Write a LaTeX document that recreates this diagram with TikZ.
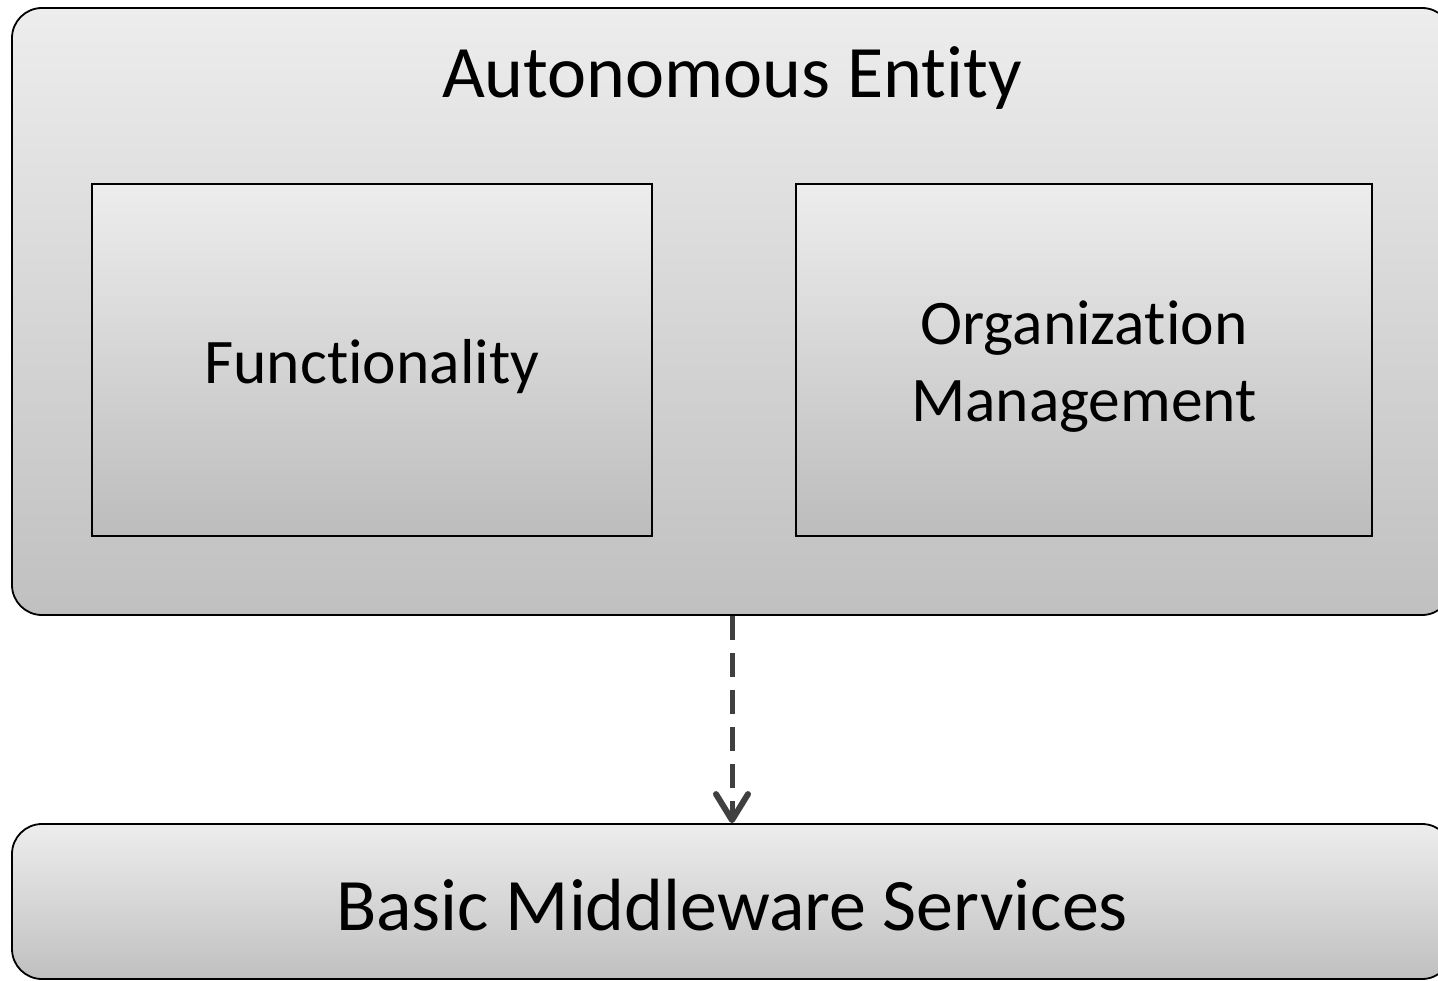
\documentclass[tikz,border=0pt]{standalone}
\usepackage{fontspec}
\setmainfont[RawFeature=-liga]{Carlito}
\usetikzlibrary{arrows.meta}
\definecolor{gtop}{HTML}{EDEDED}
\definecolor{gbot}{HTML}{C0C0C0}
\definecolor{arrowgray}{HTML}{404040}
\tikzset{
  bigbox/.style={draw=black, line width=1.8pt, rounded corners=30pt,
    top color=gtop, bottom color=gbot, inner sep=0pt},
  innerbox/.style={draw=black, line width=1.3pt,
    top color=gtop, bottom color=gbot!98!black, inner sep=0pt},
  bigtext/.style={font=\fontsize{74}{90}\selectfont, anchor=base, inner sep=0pt},
  smalltext/.style={font=\fontsize{63.5}{77}\selectfont, inner sep=0pt, align=center},
  depends/.style={draw=arrowgray, line width=5pt, dash pattern=on 24pt off 13pt,
    -{Straight Barb[length=26pt,width=32pt,line width=6pt,round]}}
}
\begin{document}
\begin{tikzpicture}[x=1pt,y=-1pt]
\useasboundingbox (0,0) rectangle (1438,981);
\clip (0,0) rectangle (1438,981);
\node[bigbox, minimum width=1440pt, minimum height=607pt] (ae) at (732,311.5) {};
\node[bigbox, minimum width=1440pt, minimum height=155pt] (bms) at (732,901.5) {};
\node[innerbox, minimum width=560pt, minimum height=352pt] (fun) at (372,360) {};
\node[innerbox, minimum width=576pt, minimum height=352pt] (org) at (1084,360) {};
\node[bigtext] (aet) at (732,98) {Autonomous Entity};
\node[bigtext] (bmst) at (732,930) {Basic Middleware Services};
\node[smalltext] (funt) at (372,367) {Functionality};
\node[smalltext] (orgt) at (1084,367) {Organization\\Management};
\draw[depends] (ae.south) -- (bms.north);
\end{tikzpicture}
\end{document}
